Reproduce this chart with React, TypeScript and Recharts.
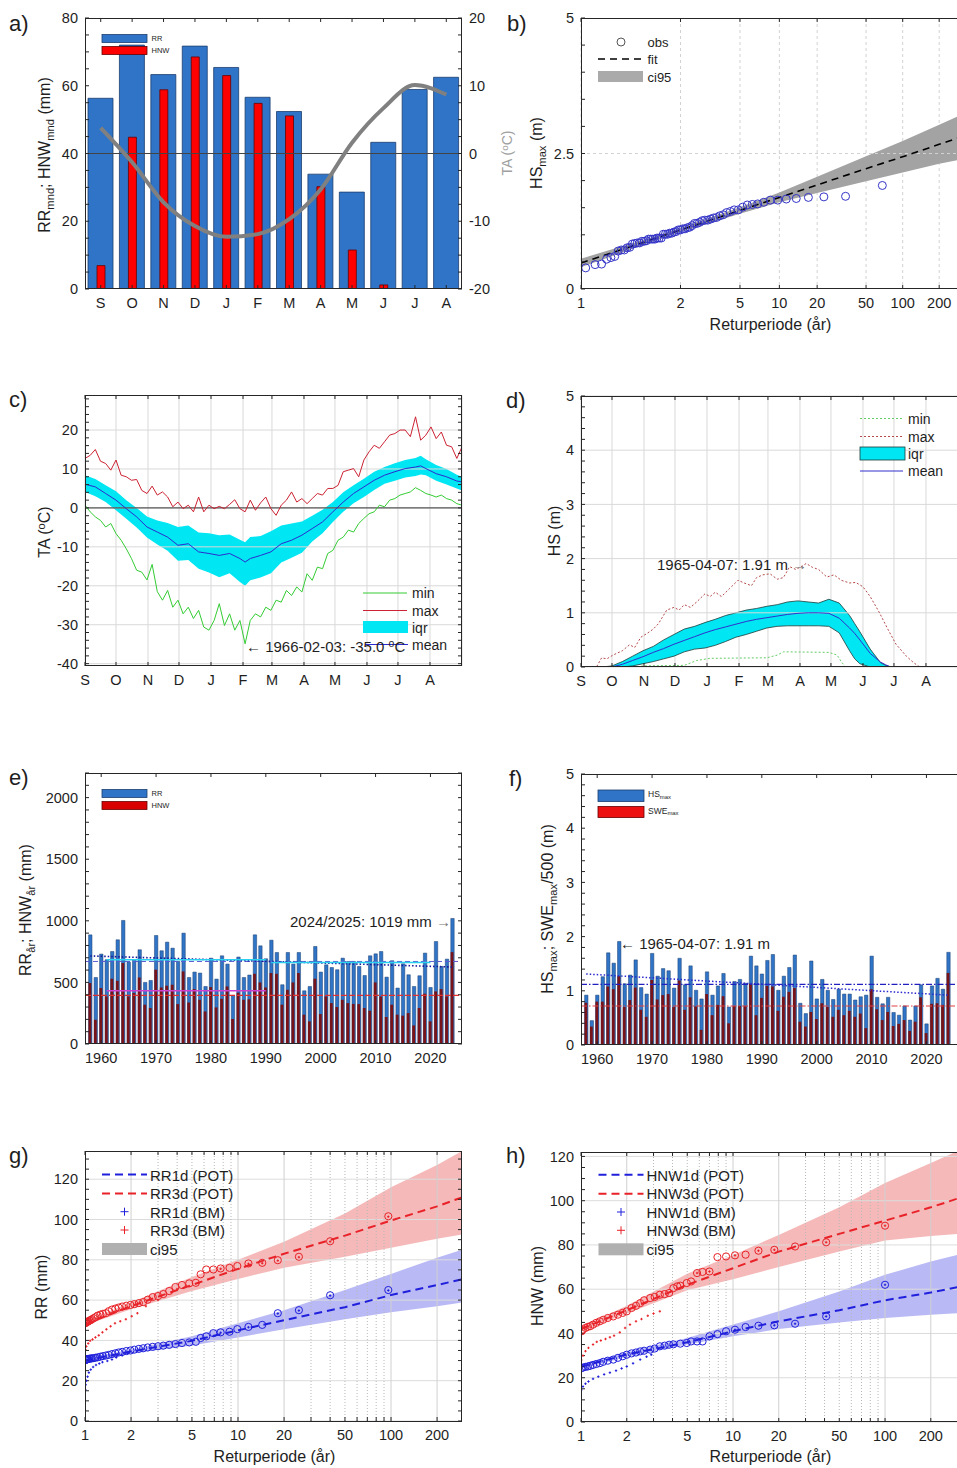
import React from 'react';
import { ComposedChart, Bar, Line, Area, Scatter, XAxis, YAxis, CartesianGrid, ReferenceLine } from 'recharts';

const FONT = '"Liberation Sans", Arial, Helvetica, sans-serif';
const INK = '#1e1e1e';
const BLUE_BAR = '#2f74c6';
const RED = '#ff0000';
const CYAN = '#00e6f2';
const GBLUE = '#2020dc';
const GRED = '#e82228';

// ---------- a) monthly means
const monthLabels = ['S', 'O', 'N', 'D', 'J', 'F', 'M', 'A', 'M', 'J', 'J', 'A'];
const rrMonthly = [56.3, 72.0, 63.3, 71.7, 65.4, 56.6, 52.4, 33.9, 28.6, 43.3, 58.9, 62.5];
const hnwMonthly = [6.9, 44.8, 58.8, 68.5, 63.0, 54.8, 51.1, 30.2, 11.5, 1.2, 0, 0];
const taMonthly = [3.8, -1.3, -7.2, -10.7, -12.3, -11.9, -9.7, -5.3, 1.6, 6.7, 10.1, 8.7];
const aLeftMajor = [0, 20, 40, 60, 80];
const aRightMajor = [-20, -10, 0, 10, 20];

// ---------- e/f) annual values, hydrological years from 1958
const firstYear = 1958;
const rrYear = [886, 540, 730, 684, 751, 846, 1003, 665, 684, 765,
  500, 516, 881, 757, 827, 778, 670, 900, 540, 584,
  576, 467, 697, 527, 716, 649, 394, 706, 540, 560,
  886, 797, 692, 843, 743, 481, 743, 649, 743, 432,
  467, 792, 584, 643, 621, 603, 697, 670, 670, 630,
  556, 716, 732, 751, 543, 676, 454, 651, 562, 467,
  554, 738, 459, 832, 630, 689, 1019];
const hnwYear = [495, 197, 454, 386, 530, 513, 657, 386, 414, 540,
  319, 292, 603, 459, 473, 481, 324, 589, 337, 446,
  359, 264, 462, 297, 367, 467, 203, 416, 359, 363,
  570, 500, 459, 576, 570, 319, 440, 500, 576, 238,
  184, 530, 243, 386, 332, 300, 359, 332, 325, 324,
  292, 270, 500, 386, 219, 319, 238, 230, 251, 151,
  292, 408, 184, 427, 446, 386, 746];
const hsMax = [0.92, 0.45, 0.92, 1.26, 1.70, 1.51, 1.91, 1.13, 1.29, 1.57,
  1.06, 0.94, 1.69, 1.27, 1.41, 1.37, 1.05, 1.60, 1.11, 1.46,
  1.01, 0.85, 1.35, 0.92, 1.09, 1.32, 0.70, 1.17, 1.21, 1.14,
  1.64, 1.46, 1.31, 1.56, 1.67, 1.01, 1.27, 1.43, 1.66, 0.77,
  0.58, 1.55, 0.85, 1.21, 1.01, 0.84, 1.03, 0.94, 0.94, 0.83,
  0.89, 0.92, 1.64, 0.88, 0.76, 0.88, 0.60, 0.55, 0.72, 0.46,
  0.72, 1.11, 0.39, 1.09, 1.23, 1.03, 1.71];
const sweMax500 = [0.78, 0.34, 0.80, 0.80, 1.08, 1.03, 1.27, 0.70, 0.83, 1.06,
  0.65, 0.52, 1.20, 0.84, 0.92, 0.94, 0.70, 1.19, 0.65, 0.88,
  0.71, 0.28, 0.94, 0.55, 0.74, 0.90, 0.40, 0.72, 0.72, 0.72,
  1.13, 0.55, 0.87, 1.09, 1.08, 0.63, 0.89, 0.98, 1.05, 0.43,
  0.34, 0.61, 0.48, 0.77, 0.70, 0.52, 0.65, 0.55, 0.63, 0.52,
  0.58, 0.31, 1.03, 0.66, 0.46, 0.61, 0.35, 0.39, 0.46, 0.26,
  0.43, 0.88, 0.22, 0.76, 0.77, 0.74, 1.33];
const decadeTicks = [1960, 1970, 1980, 1990, 2000, 2010, 2020];
const eMajor = [0, 500, 1000, 1500, 2000];
const fMajor = [0, 1, 2, 3, 4, 5];
const eTrendYears = [1958, 2024];
const eTrendRR = [715, 625];
const eMeanRR = 670;
const eMeanHNW = 395;
const eNormYears = [1961, 1990];
const eNormRR = 684;
const eNorm2Years = [1991, 2020];
const eNorm2RR = 662;
const eNormHNW = 432;
const fTrendHS = [1.31, 0.92];
const fMeanHS = 1.12;
const fMeanSWE = 0.72;

// ---------- b) return period HSmax (Gumbel axis)
const bTickT = [1.01, 2, 5, 10, 20, 50, 100, 200];
const bTickLabels = ['1', '2', '5', '10', '20', '50', '100', '200'];
const bMajor = [0, 2.5, 5];
const bFitT = [1.01, 1.5, 2, 3, 5, 10, 20, 50, 100, 200, 300];
const bFit = [0.48, 0.94, 1.09, 1.26, 1.45, 1.69, 1.92, 2.22, 2.44, 2.67, 2.80];
const bLo = [0.40, 0.90, 1.05, 1.21, 1.39, 1.60, 1.77, 1.99, 2.15, 2.31, 2.39];
const bHi = [0.56, 0.98, 1.13, 1.31, 1.51, 1.78, 2.07, 2.45, 2.73, 3.03, 3.21];

// ---------- c) daily temperature climatology
const monthStarts = [0, 30, 61, 91, 122, 153, 181, 212, 242, 273, 303, 334];
const cMajor = [-40, -30, -20, -10, 0, 10, 20];
const cDays = [0, 5, 10, 15, 20, 25, 30, 35, 40, 45, 50, 55, 60, 65, 70, 75, 80, 85, 90, 95,
  100, 105, 110, 115, 120, 125, 130, 135, 140, 145, 150, 155, 160, 165, 170, 175, 180, 185, 190, 195,
  200, 205, 210, 215, 220, 225, 230, 235, 240, 245, 250, 255, 260, 265, 270, 275, 280, 285, 290, 295,
  300, 305, 310, 315, 320, 325, 330, 335, 340, 345, 350, 355, 360, 365];
const taMax = [12.7, 13.5, 15.0, 12.0, 11.4, 9.7, 12.3, 8.4, 8.0, 7.1,
  7.3, 4.5, 3.7, 5.6, 3.3, 4.1, 2.8, 0.3, 1.5, -0.2,
  0.7, -1.0, 2.8, -1.0, 0.7, -0.2, 0.4, -0.2, 0.9, 2.1,
  -0.2, -1.0, 2.0, -0.6, 1.3, 2.8, -0.2, -1.9, 0.7, 2.0,
  4.1, 1.5, 2.4, 1.1, 2.4, 3.7, 3.3, 5.0, 5.0, 5.8,
  9.3, 9.7, 10.1, 8.0, 12.3, 14.4, 16.1, 15.3, 17.0, 18.7,
  19.1, 20.0, 20.0, 18.3, 23.4, 17.4, 18.7, 20.8, 17.8, 19.5,
  16.1, 15.7, 12.7, 15.7];
const taMin = [0.7, -1.0, -2.3, -3.2, -4.9, -4.0, -6.6, -8.3, -10.5, -13.0,
  -16.0, -16.5, -18.5, -14.5, -21.5, -23.7, -21.2, -25.5, -23.7, -27.2,
  -25.5, -28.4, -26.3, -30.6, -31.4, -28.9, -24.6, -30.2, -27.2, -31.4,
  -28.9, -34.9, -28.9, -27.2, -28.0, -25.5, -26.3, -23.7, -24.2, -21.2,
  -22.5, -20.3, -21.6, -16.9, -18.6, -15.2, -15.6, -11.7, -10.9, -8.3,
  -7.5, -5.7, -6.2, -4.0, -2.7, -1.5, -1.0, 0.7, 0.3, 2.0,
  2.4, 3.3, 3.7, 4.1, 5.2, 4.5, 3.7, 3.3, 2.8, 3.3,
  2.4, 2.0, 1.1, 0.7];
const cMeanDays = [0, 10, 20, 30, 40, 50, 60, 70, 80, 90, 100, 110, 120, 130, 140, 150, 155, 160, 170, 180,
  190, 200, 210, 220, 230, 240, 250, 260, 270, 280, 290, 300, 310, 320, 325, 330, 340, 350, 360, 365];
const taMean = [6.1, 5.4, 3.7, 2.0, -0.2, -2.3, -4.9, -6.2, -7.5, -9.6, -9.2, -11.3, -11.7, -12.2, -11.7, -13.0, -13.9, -13.0, -12.2, -11.3,
  -9.2, -8.3, -7.0, -5.3, -3.6, -1.0, 1.5, 3.7, 5.4, 7.1, 8.4, 9.3, 10.1, 10.5, 10.8, 10.1, 8.8, 8.0, 6.9, 6.7];
const taIqrHi = [8.4, 7.4, 5.8, 4.3, 2.0, 0.0, -2.2, -3.2, -3.9, -4.9, -4.5, -6.3, -6.5, -7.0, -6.8, -8.2, -8.8, -7.5, -7.2, -6.0,
  -4.5, -4.0, -3.5, -2.0, -0.5, 1.5, 4.0, 5.8, 7.5, 9.3, 10.5, 11.5, 12.3, 12.8, 13.4, 12.5, 11.0, 10.0, 8.5, 8.0];
const taIqrLo = [4.1, 3.0, 1.5, -0.6, -2.8, -5.0, -7.6, -9.4, -11.0, -13.6, -13.4, -15.6, -16.6, -17.8, -16.8, -19.0, -20.0, -18.6, -17.9, -16.8,
  -14.0, -12.8, -11.5, -8.6, -6.5, -3.6, -1.0, 1.2, 2.8, 4.6, 6.2, 7.0, 7.8, 8.2, 8.6, 8.4, 7.0, 6.0, 5.0, 4.5];

// ---------- d) daily snow depth climatology
const dMajor = [0, 1, 2, 3, 4, 5];
const dDays = [0, 10, 20, 30, 40, 50, 60, 70, 80, 90, 100, 110, 120, 130, 140, 150, 160, 170, 180, 190,
  200, 210, 220, 230, 240, 250, 260, 265, 270, 280, 290, 295, 300, 310, 320, 330, 340, 350, 365];
const hsMean = [0, 0, 0, 0, 0.05, 0.12, 0.19, 0.27, 0.34, 0.42, 0.49, 0.56, 0.63, 0.69, 0.74, 0.79, 0.84, 0.88, 0.91, 0.94,
  0.97, 0.99, 1.0, 1.0, 0.99, 0.9, 0.72, 0.62, 0.5, 0.25, 0.09, 0.04, 0, 0, 0, 0, 0, 0, 0];
const hsIqrHi = [0, 0, 0, 0.02, 0.1, 0.2, 0.3, 0.38, 0.5, 0.6, 0.7, 0.75, 0.82, 0.88, 0.95, 1.0, 1.05, 1.08, 1.12, 1.15,
  1.2, 1.22, 1.2, 1.18, 1.25, 1.18, 0.95, 0.8, 0.65, 0.33, 0.08, 0.03, 0, 0, 0, 0, 0, 0, 0];
const hsIqrLo = [0, 0, 0, 0, 0, 0.02, 0.06, 0.1, 0.15, 0.2, 0.28, 0.33, 0.35, 0.4, 0.47, 0.55, 0.6, 0.66, 0.72, 0.75,
  0.76, 0.76, 0.76, 0.76, 0.75, 0.63, 0.3, 0.15, 0.06, 0, 0, 0, 0, 0, 0, 0, 0, 0, 0];
const dMaxDays = [0, 15, 20, 25, 31, 40, 47, 52, 58, 64, 70, 75, 83, 90, 95, 100, 106, 112, 120, 125,
  130, 136, 144, 152, 158, 165, 170, 176, 183, 190, 196, 202, 208, 214, 218, 224, 230, 238, 245, 252,
  260, 266, 273, 280, 289, 297, 305, 315, 322, 328, 365];
const hsMaxDaily = [0, 0, 0.17, 0.15, 0.22, 0.3, 0.41, 0.36, 0.55, 0.62, 0.7, 0.8, 1.05, 1.1, 1.05, 1.15, 1.1, 1.2, 1.35, 1.3,
  1.38, 1.3, 1.45, 1.6, 1.55, 1.5, 1.65, 1.7, 1.72, 1.62, 1.65, 1.85, 1.8, 1.86, 1.91, 1.84, 1.8, 1.66, 1.7, 1.6,
  1.55, 1.56, 1.48, 1.3, 1.0, 0.7, 0.42, 0.2, 0.08, 0, 0];
const dMinDays = [0, 55, 60, 100, 112, 125, 180, 190, 196, 240, 248, 252, 256, 365];
const hsMinDaily = [0, 0, 0.02, 0.03, 0.12, 0.16, 0.17, 0.22, 0.28, 0.27, 0.22, 0.1, 0, 0];

// ---------- g) RR return levels
const logTicks = [1, 2, 5, 10, 20, 50, 100, 200];
const logMinorTicks = [3, 4, 6, 7, 8, 9, 30, 40, 60, 70, 80, 90];
const gridMajorT = [2, 10, 20, 100, 200];
const gridMinorT = [3, 4, 5, 6, 7, 8, 9, 30, 40, 50, 60, 70, 80, 90];
const retMajor = [0, 20, 40, 60, 80, 100, 120];
const gT = [1, 2, 5, 10, 20, 50, 100, 200, 291];
const rr1Fit = [30, 34.5, 39.8, 45, 50, 56.5, 62.5, 67.5, 70.3];
const rr1Lo = [29, 33.5, 37.5, 41.5, 45.5, 50.5, 54, 57, 58.8];
const rr1Hi = [31, 35.5, 42, 48.5, 55, 65, 73, 81, 85];
const rr3Fit = [48, 57, 67.5, 75.5, 83, 92, 99.5, 106.5, 111];
const rr3Lo = [47.5, 55.5, 64.5, 70.5, 76, 81.5, 86, 90.5, 92.5];
const rr3Hi = [49.5, 58.8, 71.5, 80, 89, 103, 116, 127, 134];
const rr3Pot = [[1.01, 48.6], [1.015, 48.8], [1.02, 49.0], [1.03, 49.1], [1.04, 49.3], [1.05, 49.5], [1.07, 49.8], [1.09, 50.1], [1.11, 50.5], [1.14, 51.0],
  [1.17, 51.5], [1.21, 52.3], [1.26, 52.8], [1.31, 53.2], [1.37, 53.5], [1.43, 54.5], [1.5, 55.3], [1.58, 55.8], [1.66, 56.3], [1.75, 56.8],
  [1.86, 57.2], [1.98, 57.6], [2.1, 58.0], [2.25, 58.5], [2.4, 59.0], [2.57, 60.2], [2.77, 61.5], [3.0, 62.0], [3.25, 63.0], [3.55, 64.5],
  [3.9, 66.5], [4.3, 67.5], [4.8, 68.3], [5.3, 68.6], [5.7, 72.8], [6.2, 75.2], [6.9, 75.2], [7.7, 75.7], [8.8, 76], [9.9, 76.9],
  [11.7, 78.2], [14.4, 78.5], [18.2, 79.8], [25, 81.5], [40, 89.2], [96, 101.6]];
const rr1Pot = [[1.01, 30.3], [1.015, 30.4], [1.02, 30.5], [1.03, 30.6], [1.04, 30.7], [1.05, 30.8], [1.07, 30.9], [1.09, 31.0], [1.11, 31.1], [1.14, 31.2],
  [1.17, 31.4], [1.21, 31.6], [1.26, 31.9], [1.31, 32.2], [1.37, 32.5], [1.43, 32.8], [1.5, 33.2], [1.58, 33.6], [1.66, 34.0], [1.75, 34.3],
  [1.86, 34.7], [1.98, 35.0], [2.1, 35.4], [2.25, 35.8], [2.4, 36.1], [2.57, 36.5], [2.77, 36.8], [3.0, 37.1], [3.25, 37.4], [3.55, 37.8],
  [3.9, 38.2], [4.3, 38.7], [4.8, 39.0], [5.3, 39.3], [5.7, 41.2], [6.2, 42], [6.9, 43.6], [7.7, 44], [8.8, 44.3], [9.9, 45.6],
  [11.7, 46.7], [14.4, 47.7], [18.2, 53.5], [25, 55], [40, 62.4], [96, 65]];
const rr3Bm = [[1.005, 35.5], [1.02, 37], [1.05, 38.5], [1.08, 39.8], [1.12, 40.5], [1.17, 41.5], [1.23, 42.5], [1.3, 44], [1.38, 45.5], [1.47, 47],
  [1.57, 48.5], [1.7, 49.5], [1.85, 50.5], [2.02, 52], [2.2, 53.5], [2.5, 57], [3.0, 60], [4.0, 65.5], [5.5, 68.5], [7.7, 75.5],
  [11.7, 78], [14.4, 78.3], [18.2, 79.6], [25, 81.3], [40, 89], [96, 101.4]];
const rr1Bm = [[1.005, 15.5], [1.01, 18], [1.02, 20], [1.04, 22], [1.06, 24], [1.09, 25.5], [1.13, 26.8], [1.18, 27.8], [1.24, 28.5], [1.3, 29.2],
  [1.4, 29.8], [1.5, 30.5], [1.6, 31.5], [1.75, 32.5], [1.9, 33.5], [7.7, 43.8], [11.7, 46.5], [18.2, 53.3], [25, 54.8], [40, 62.2], [96, 64.8]];

// ---------- h) HNW return levels
const hT = [1, 2, 5, 10, 20, 50, 100, 200, 302];
const hnw1Fit = [25, 30.5, 36, 41, 45.5, 50.5, 55, 58.5, 61];
const hnw1Lo = [24, 29.5, 35, 38.7, 42, 45, 47, 48.5, 49.2];
const hnw1Hi = [26, 31.5, 38, 44, 50, 59, 66.5, 72.5, 75.6];
const hnw3Fit = [42, 50.5, 62, 69.5, 77, 85, 91, 97, 101];
const hnw3Lo = [41, 49, 59.5, 64.5, 70, 77, 82, 84, 85];
const hnw3Hi = [43, 52.5, 67, 75.5, 84.5, 97, 108, 117, 122.5];
const hnw3Pot = [[1.01, 41], [1.03, 41.8], [1.07, 42.5], [1.11, 43.0], [1.15, 43.3], [1.2, 44], [1.26, 44.8], [1.33, 45.5], [1.4, 46.2], [1.5, 47],
  [1.63, 47.7], [1.75, 48.5], [1.88, 49.3], [2.0, 50], [2.15, 51.5], [2.3, 52.5], [2.45, 53.7], [2.6, 55], [2.85, 56], [3.05, 56.5],
  [3.3, 57.5], [3.55, 57.8], [3.8, 58.3], [4.05, 60.5], [4.3, 61.3], [4.5, 61.6], [4.96, 62.8], [5.3, 63.5], [5.8, 67.3], [6.3, 67.8],
  [7.0, 68], [7.9, 74.5], [9.0, 74.8], [10.3, 75.3], [12.1, 75.6], [14.7, 77.4], [18.7, 77.8], [25.6, 79.3], [41, 81.2], [100, 88.7]];
const hnw1Pot = [[1.01, 24.4], [1.03, 24.6], [1.07, 24.9], [1.11, 25.1], [1.15, 25.4], [1.2, 25.8], [1.26, 26.2], [1.33, 26.6], [1.4, 27.2], [1.5, 27.7],
  [1.63, 28.2], [1.75, 29], [1.88, 29.7], [2.0, 30.4], [2.15, 31], [2.3, 31.4], [2.45, 31.9], [2.6, 32.2], [2.85, 32.7], [3.05, 33.2],
  [3.3, 34.2], [3.55, 34.5], [3.8, 34.9], [4.05, 35.1], [4.5, 35.4], [4.96, 35.7], [5.3, 36.4], [5.8, 36.4], [6.3, 36.4], [7.0, 38.7],
  [7.9, 39.7], [9.0, 41], [10.3, 41.7], [12.1, 42.9], [14.7, 43.5], [18.7, 43.7], [25.6, 44.4], [41, 47.7], [100, 62]];
const hnw3Bm = [[1.005, 28], [1.03, 30], [1.07, 32], [1.12, 33.5], [1.2, 35], [1.27, 36.2], [1.35, 36.8], [1.45, 37.5], [1.55, 38.3], [1.65, 39],
  [1.8, 40.5], [1.95, 42.5], [2.1, 44], [2.3, 45.5], [2.5, 46.5], [2.75, 48], [3.0, 49], [3.3, 50], [5.8, 67.3], [7.0, 68],
  [10.3, 75.3], [14.7, 77.4], [18.7, 77.8], [25.6, 79.3], [41, 81.2], [100, 88.7]];
const hnw1Bm = [[1.005, 14.5], [1.03, 16], [1.07, 17.3], [1.12, 18.3], [1.2, 19.5], [1.3, 20.5], [1.42, 21.5], [1.55, 22.3], [1.7, 23.2], [1.85, 24.2],
  [2.0, 25.1], [2.2, 26.5], [2.45, 28.2], [2.7, 29.5], [2.9, 30.4], [10.3, 41.7], [18.7, 43.7], [25.6, 44.4], [41, 47.7], [100, 62]];

// ---------- helpers
const gumbel = (T: number) => -Math.log(-Math.log(1 - 1 / T));
const xy = (xs: number[], ys: number[]) => xs.map((x, i) => ({ x, y: ys[i] }));
const band = (xs: number[], lo: number[], hi: number[]) => xs.map((x, i) => ({ x, r: [lo[i], hi[i]] }));
const pairs = (p: number[][]) => p.map(([x, y]) => ({ x, y }));
const hline = (xs: number[], v: number) => xs.map((x) => ({ x, y: v }));
const steps = (a: number, b: number, s: number) => {
  const out: number[] = [];
  for (let v = a; v <= b + 1e-9; v += s) out.push(Math.round(v * 1000) / 1000);
  return out;
};
const showMajor = (majors: number[]) => (v: number) => (majors.some((m) => Math.abs(m - v) < 1e-9) ? String(v) : '');
const blank = () => '';

const tick = { fontSize: 14.5, fill: INK, fontFamily: FONT };
const inTick = { stroke: '#262626', strokeWidth: 1 };
const axX: any = { tickLine: inTick, axisLine: false, tickSize: -4, tickMargin: 13, tick, allowDataOverflow: true, interval: 0 };
const axY: any = { tickLine: inTick, axisLine: false, tickSize: -4, tickMargin: 11, tick, allowDataOverflow: true, interval: 0 };
const axH: any = { tickLine: inTick, axisLine: false, tickSize: -4, tickMargin: 0, tick, allowDataOverflow: true, interval: 0, tickFormatter: blank };
const NA = { isAnimationActive: false };

const circleShape = (color: string, r: number) => (p: any) => (
  <circle cx={p.cx} cy={p.cy} r={r} fill="none" stroke={color} strokeWidth={1} />
);
const crossShape = (color: string, s: number) => (p: any) => (
  <path d={`M${p.cx - s},${p.cy}H${p.cx + s}M${p.cx},${p.cy - s}V${p.cy + s}`} stroke={color} strokeWidth={1} fill="none" />
);

const At = ({ x, y, children }: any) => <div style={{ position: 'absolute', left: x, top: y }}>{children}</div>;
const Txt = ({ x, y, s = 14, c = INK, children }: any) => (
  <div style={{ position: 'absolute', left: x, top: y, fontSize: s, color: c, lineHeight: `${s}px`, whiteSpace: 'nowrap', transform: 'translateY(-50%)' }}>{children}</div>
);
const CTxt = ({ x, y, s = 16, c = INK, children }: any) => (
  <div style={{ position: 'absolute', left: x, top: y, fontSize: s, color: c, lineHeight: `${s}px`, whiteSpace: 'nowrap', transform: 'translate(-50%,-50%)' }}>{children}</div>
);
const VTxt = ({ x, y, s = 16, c = INK, children }: any) => (
  <div style={{ position: 'absolute', left: x, top: y, fontSize: s, color: c, lineHeight: `${s}px`, whiteSpace: 'nowrap', transform: 'translate(-50%,-50%) rotate(-90deg)' }}>{children}</div>
);
const Sub = ({ children }: any) => <span style={{ fontSize: '0.7em', position: 'relative', top: '0.32em' }}>{children}</span>;
const Sup = ({ children }: any) => <span style={{ fontSize: '0.7em', position: 'relative', top: '-0.45em' }}>{children}</span>;
const Frame = ({ l, t, r, b }: any) => (
  <div style={{ position: 'absolute', left: l, top: t, width: r - l, height: b - t, border: '1px solid #262626', boxSizing: 'border-box', pointerEvents: 'none' }} />
);

const M = { top: 14, right: 0, bottom: 0, left: 0 };
const ML = { top: 14, right: 9, bottom: 0, left: 0 };

// ---------- panels
function PanelA() {
  const rows = monthLabels.map((m, i) => ({ i, rr: rrMonthly[i], hnw: hnwMonthly[i], ta: taMonthly[i] }));
  return (
    <At x={0} y={3}>
      <ComposedChart width={520} height={326} data={rows} margin={M}>
        <XAxis xAxisId="m" dataKey="i" type="category" height={40} {...axX} tickFormatter={(v: number) => monthLabels[v]} />
        <XAxis xAxisId="t" dataKey="i" type="category" orientation="top" height={1} {...axH} />
        <XAxis xAxisId="m2" dataKey="i" type="category" hide />
        <YAxis yAxisId="l" width={85} domain={[0, 80]} ticks={steps(0, 80, 5)} tickFormatter={showMajor(aLeftMajor)} {...axY} />
        <YAxis yAxisId="r" orientation="right" width={58} domain={[-20, 20]} ticks={steps(-20, 20, 2.5)} tickFormatter={showMajor(aRightMajor)} {...axY} />
        <Bar xAxisId="m" yAxisId="l" dataKey="rr" barSize={25} fill={BLUE_BAR} stroke="#1c3f70" strokeWidth={0.8} {...NA} />
        <Bar xAxisId="m2" yAxisId="l" dataKey="hnw" barSize={8} fill={RED} stroke="#600" strokeWidth={0.8} {...NA} />
        <ReferenceLine xAxisId="m" yAxisId="l" y={40} stroke="#444" strokeWidth={1} />
        <Line xAxisId="m" yAxisId="r" dataKey="ta" type="monotone" stroke="#808080" strokeWidth={4} dot={false} {...NA} />
      </ComposedChart>
    </At>
  );
}

function PanelB() {
  const n = hsMax.length;
  const obs = [...hsMax].sort((p, q) => q - p).map((v, i) => ({ x: gumbel((n + 1) / (i + 1)), y: v }));
  const fit = bFitT.map((T, i) => ({ x: gumbel(T), y: bFit[i] }));
  const ci = bFitT.map((T, i) => ({ x: gumbel(T), r: [bLo[i], bHi[i]] }));
  const ticks = bTickT.map(gumbel);
  const dom = [gumbel(1.01), 5.654];
  return (
    <At x={480} y={3}>
      <ComposedChart width={478} height={326} margin={M}>
        <CartesianGrid stroke="#d2d2d2" strokeDasharray="3 3" horizontal={false} />
        <XAxis type="number" dataKey="x" domain={dom} ticks={ticks} height={40} {...axX}
          tickFormatter={(v: number, i: number) => bTickLabels[i]} />
        <XAxis xAxisId="t" type="number" dataKey="x" orientation="top" domain={dom} ticks={ticks} height={1} {...axH} />
        <YAxis type="number" width={101} domain={[0, 5]} ticks={steps(0, 5, 0.5)} tickFormatter={showMajor(bMajor)} {...axY} />
        <ReferenceLine y={2.5} stroke="#d2d2d2" strokeDasharray="3 3" />
        <Area data={ci} dataKey="r" fill="#a3a3a3" fillOpacity={1} stroke="none" {...NA} />
        <Scatter data={obs} dataKey="y" shape={circleShape('#3434c8', 4)} {...NA} />
        <Line data={fit} dataKey="y" stroke="#000" strokeWidth={1.6} strokeDasharray="7 5" dot={false} {...NA} />
      </ComposedChart>
    </At>
  );
}

function PanelC() {
  return (
    <At x={0} y={380}>
      <ComposedChart width={472} height={326} margin={ML}>
        <CartesianGrid stroke="#d9d9d9" horizontal={false} />
        <XAxis type="number" dataKey="x" domain={[0, 365]} ticks={monthStarts} height={40} {...axX}
          tickFormatter={(v: number, i: number) => monthLabels[i]} />
        <XAxis xAxisId="t" type="number" dataKey="x" orientation="top" domain={[0, 365]} ticks={monthStarts} height={1} {...axH} />
        <YAxis type="number" width={85} domain={[-40.6, 29]} ticks={steps(-40, 28, 2)} tickFormatter={showMajor(cMajor)} {...axY} />
        <YAxis yAxisId="rt" orientation="right" type="number" width={1} domain={[-40.6, 29]} ticks={steps(-40, 28, 2)} {...axH} />
        {cMajor.map((v) => <ReferenceLine key={v} y={v} stroke="#d9d9d9" />)}
        <Area data={band(cMeanDays, taIqrLo, taIqrHi)} dataKey="r" fill={CYAN} fillOpacity={1} stroke="none" {...NA} />
        <ReferenceLine y={0} stroke="#333" />
        <Line data={xy(cDays, taMin)} dataKey="y" stroke="#33cc33" strokeWidth={1} dot={false} {...NA} />
        <Line data={xy(cDays, taMax)} dataKey="y" stroke="#cc2233" strokeWidth={1} dot={false} {...NA} />
        <Line data={xy(cMeanDays, taMean)} dataKey="y" stroke="#2b2bd0" strokeWidth={1} dot={false} {...NA} />
      </ComposedChart>
    </At>
  );
}

function PanelD() {
  return (
    <At x={480} y={381}>
      <ComposedChart width={478} height={326} margin={M}>
        <CartesianGrid stroke="#d9d9d9" horizontal={false} />
        <XAxis type="number" dataKey="x" domain={[0, 365]} ticks={monthStarts} height={40} {...axX}
          tickFormatter={(v: number, i: number) => monthLabels[i]} />
        <XAxis xAxisId="t" type="number" dataKey="x" orientation="top" domain={[0, 365]} ticks={monthStarts} height={1} {...axH} />
        <YAxis type="number" width={101} domain={[0, 5]} ticks={steps(0, 5, 0.2)} tickFormatter={showMajor(dMajor)} {...axY} />
        {dMajor.map((v) => <ReferenceLine key={v} y={v} stroke="#d9d9d9" />)}
        <Area data={band(dDays, hsIqrLo, hsIqrHi)} dataKey="r" fill={CYAN} fillOpacity={1} stroke="#1d3a3a" strokeWidth={0.8} {...NA} />
        <Line data={xy(dMinDays, hsMinDaily)} dataKey="y" stroke="#66cc66" strokeDasharray="2 2" strokeWidth={1} dot={false} {...NA} />
        <Line data={xy(dMaxDays, hsMaxDaily)} dataKey="y" stroke="#b44a4a" strokeDasharray="2 2" strokeWidth={1} dot={false} {...NA} />
        <Line data={xy(dDays, hsMean)} dataKey="y" stroke="#3030cc" strokeWidth={1} dot={false} {...NA} />
      </ComposedChart>
    </At>
  );
}

function PanelE() {
  const rows = rrYear.map((v, i) => ({ x: firstYear + i, rr: v, hnw: hnwYear[i] }));
  const dom = [1957.05, 2025.75];
  const allYears = [dom[0], dom[1]];
  return (
    <At x={0} y={758}>
      <ComposedChart width={472} height={326} data={rows} margin={ML}>
        <XAxis xAxisId="e1" type="number" dataKey="x" domain={dom} ticks={decadeTicks} height={40} {...axX} />
        <XAxis xAxisId="t" type="number" dataKey="x" orientation="top" domain={dom} ticks={decadeTicks} height={1} {...axH} />
        <XAxis xAxisId="e2" type="number" dataKey="x" domain={dom} allowDataOverflow hide />
        <YAxis width={85} domain={[0, 2200]} ticks={steps(0, 2200, 100)} tickFormatter={showMajor(eMajor)} {...axY} />
        <YAxis yAxisId="rt" orientation="right" width={1} domain={[0, 2200]} ticks={steps(0, 2200, 100)} {...axH} />
        <Bar xAxisId="e1" dataKey="rr" barSize={3.4} fill={BLUE_BAR} stroke="#1c3f70" strokeWidth={0.5} {...NA} />
        <Bar xAxisId="e2" dataKey="hnw" barSize={2.8} fill="#781419" {...NA} />
        <Line xAxisId="e1" data={hline(allYears, eMeanRR)} dataKey="y" stroke="#5a5ad0" strokeDasharray="5 3" strokeWidth={1} dot={false} {...NA} />
        <Line xAxisId="e1" data={xy(eTrendYears, eTrendRR)} dataKey="y" stroke="#16169a" strokeDasharray="1.5 2" strokeWidth={1.6} dot={false} {...NA} />
        <Line xAxisId="e1" data={hline(eNormYears, eNormRR)} dataKey="y" stroke="#2ad0f0" strokeWidth={1.4} dot={false} {...NA} />
        <Line xAxisId="e1" data={hline(eNorm2Years, eNorm2RR)} dataKey="y" stroke="#2ad0f0" strokeWidth={1.4} dot={false} {...NA} />
        <Line xAxisId="e1" data={hline(allYears, eMeanHNW)} dataKey="y" stroke="#e03030" strokeDasharray="6 2" strokeWidth={1.2} dot={false} {...NA} />
        <Line xAxisId="e1" data={hline(eNormYears, eNormHNW)} dataKey="y" stroke="#d040d0" strokeWidth={1.4} dot={false} {...NA} />
      </ComposedChart>
    </At>
  );
}

function PanelF() {
  const rows = hsMax.map((v, i) => ({ x: firstYear + i, hs: v, swe: sweMax500[i] }));
  const dom = [1957.05, 2025.75];
  const allYears = [dom[0], dom[1]];
  return (
    <At x={480} y={759}>
      <ComposedChart width={478} height={326} data={rows} margin={M}>
        <XAxis xAxisId="f1" type="number" dataKey="x" domain={dom} ticks={decadeTicks} height={40} {...axX} />
        <XAxis xAxisId="t" type="number" dataKey="x" orientation="top" domain={dom} ticks={decadeTicks} height={1} {...axH} />
        <XAxis xAxisId="f2" type="number" dataKey="x" domain={dom} allowDataOverflow hide />
        <YAxis width={101} domain={[0, 5]} ticks={steps(0, 5, 0.2)} tickFormatter={showMajor(fMajor)} {...axY} />
        <Bar xAxisId="f1" dataKey="hs" barSize={3.4} fill={BLUE_BAR} stroke="#1c3f70" strokeWidth={0.5} {...NA} />
        <Bar xAxisId="f2" dataKey="swe" barSize={2.8} fill="#781419" {...NA} />
        <Line xAxisId="f1" data={hline(allYears, fMeanHS)} dataKey="y" stroke="#2020c0" strokeDasharray="6 2 1.5 2" strokeWidth={1.2} dot={false} {...NA} />
        <Line xAxisId="f1" data={xy(eTrendYears, fTrendHS)} dataKey="y" stroke="#2a2ad0" strokeDasharray="1.5 2" strokeWidth={1.5} dot={false} {...NA} />
        <Line xAxisId="f1" data={hline(allYears, fMeanSWE)} dataKey="y" stroke="#e04040" strokeDasharray="6 2 1.5 2" strokeWidth={1.2} dot={false} {...NA} />
      </ComposedChart>
    </At>
  );
}

function ReturnPanel({ x, y, w, yAxW, margin, rightAxis, dom, yDom, T, f1, lo1, hi1, f3, lo3, hi3, pot1, pot3, bm1, bm3 }: any) {
  const xt = [...logTicks, ...logMinorTicks].sort((p, q) => p - q);
  const yt = steps(0, yDom[1], 5);
  return (
    <At x={x} y={y}>
      <ComposedChart width={w} height={326} margin={margin}>
        <XAxis type="number" dataKey="x" scale="log" domain={dom} ticks={xt} tickFormatter={showMajor(logTicks)} height={41} {...axX} />
        <XAxis xAxisId="t" type="number" dataKey="x" scale="log" orientation="top" domain={dom} ticks={xt} height={1} {...axH} />
        <YAxis type="number" width={yAxW} domain={yDom} ticks={yt} tickFormatter={showMajor(retMajor)} {...axY} />
        {rightAxis && <YAxis yAxisId="rt" orientation="right" width={1} domain={yDom} ticks={yt} {...axH} />}
        {retMajor.map((v) => <ReferenceLine key={'h' + v} y={v} stroke="#dcdcdc" />)}
        {gridMajorT.map((v) => <ReferenceLine key={'M' + v} x={v} stroke="#d0d0d0" />)}
        {gridMinorT.map((v) => <ReferenceLine key={'m' + v} x={v} stroke="#b8b8b8" strokeDasharray="1 2" />)}
        <Area data={band(T, lo3, hi3)} dataKey="r" fill="#ef8a8a" fillOpacity={0.6} stroke="none" {...NA} />
        <Area data={band(T, lo1, hi1)} dataKey="r" fill="#8a8aee" fillOpacity={0.6} stroke="none" {...NA} />
        <Scatter data={pairs(pot3)} dataKey="y" shape={circleShape(GRED, 3.6)} {...NA} />
        <Scatter data={pairs(pot1)} dataKey="y" shape={circleShape(GBLUE, 3.6)} {...NA} />
        <Scatter data={pairs(bm3)} dataKey="y" shape={crossShape(GRED, 1.2)} {...NA} />
        <Scatter data={pairs(bm1)} dataKey="y" shape={crossShape(GBLUE, 1.2)} {...NA} />
        <Line data={xy(T, f3)} dataKey="y" stroke={GRED} strokeWidth={2} strokeDasharray="8 5" dot={false} {...NA} />
        <Line data={xy(T, f1)} dataKey="y" stroke={GBLUE} strokeWidth={2} strokeDasharray="8 5" dot={false} {...NA} />
      </ComposedChart>
    </At>
  );
}

function Overlay() {
  const cross = (cx: number, cy: number, c: string) => (
    <path d={`M${cx - 4},${cy}H${cx + 4}M${cx},${cy - 4}V${cy + 4}`} stroke={c} strokeWidth={1} />
  );
  return (
    <svg width={957} height={1468} style={{ position: 'absolute', left: 0, top: 0, pointerEvents: 'none' }}>
      <rect x={102} y={34.5} width={45} height={8} fill={BLUE_BAR} stroke="#1c3f70" strokeWidth={0.8} />
      <rect x={102} y={46.5} width={45} height={8} fill={RED} stroke="#600" strokeWidth={0.8} />
      <circle cx={621} cy={42} r={4} fill="none" stroke="#555" />
      <line x1={598} y1={59} x2={643} y2={59} stroke="#000" strokeWidth={1.6} strokeDasharray="7 5" />
      <rect x={598} y={71} width={45} height={11} fill="#aaa" />
      <line x1={363} y1={593} x2={407} y2={593} stroke="#33cc33" />
      <line x1={363} y1={610.5} x2={407} y2={610.5} stroke="#cc2233" />
      <rect x={363} y={621} width={45} height={12} fill={CYAN} />
      <line x1={365} y1={644.5} x2={408} y2={644.5} stroke="#2b2bd0" />
      <line x1={860} y1={418.5} x2={903} y2={418.5} stroke="#66cc66" strokeDasharray="2 2" />
      <line x1={860} y1={436.5} x2={903} y2={436.5} stroke="#b44a4a" strokeDasharray="2 2" />
      <rect x={860} y={447} width={45} height={13} fill={CYAN} stroke="#1d3a3a" strokeWidth={0.8} />
      <line x1={860} y1={471} x2={903} y2={471} stroke="#3030cc" />
      <rect x={102} y={789.5} width={45} height={8} fill={BLUE_BAR} stroke="#1c3f70" strokeWidth={0.8} />
      <rect x={102} y={801.5} width={45} height={8} fill="#d80000" stroke="#600" strokeWidth={0.8} />
      <rect x={598} y={790} width={46} height={11.5} fill={BLUE_BAR} stroke="#1c3f70" strokeWidth={0.8} />
      <rect x={598} y={806.5} width={46} height={11} fill="#ee1111" stroke="#600" strokeWidth={0.8} />
      <line x1={102} y1={1174.5} x2={147} y2={1174.5} stroke={GBLUE} strokeWidth={2} strokeDasharray="8 5" />
      <line x1={102} y1={1193.5} x2={147} y2={1193.5} stroke={GRED} strokeWidth={2} strokeDasharray="8 5" />
      {cross(124.5, 1211.7, GBLUE)}
      {cross(124.5, 1230, GRED)}
      <rect x={102} y={1243} width={45} height={12} fill="#b0b0b0" />
      <line x1={598.5} y1={1174.8} x2={643.5} y2={1174.8} stroke={GBLUE} strokeWidth={2} strokeDasharray="8 5" />
      <line x1={598.5} y1={1193.8} x2={643.5} y2={1193.8} stroke={GRED} strokeWidth={2} strokeDasharray="8 5" />
      {cross(621, 1212, GBLUE)}
      {cross(621, 1230.3, GRED)}
      <rect x={598.5} y={1243.3} width={45} height={12} fill="#b0b0b0" />
    </svg>
  );
}

function Texts() {
  return (
    <>
      <Txt x={9} y={24} s={22}>a)</Txt>
      <Txt x={507} y={24} s={22}>b)</Txt>
      <Txt x={9} y={400} s={22}>c)</Txt>
      <Txt x={506} y={401} s={22}>d)</Txt>
      <Txt x={9} y={778} s={22}>e)</Txt>
      <Txt x={509} y={779} s={22}>f)</Txt>
      <Txt x={9} y={1156} s={22}>g)</Txt>
      <Txt x={506} y={1156} s={22}>h)</Txt>
      <VTxt x={45} y={155}>RR<Sub>mnd</Sub>; HNW<Sub>mnd</Sub> (mm)</VTxt>
      <VTxt x={508} y={153} s={14} c="#a0a0a0">TA (<Sup>o</Sup>C)</VTxt>
      <VTxt x={537} y={153}>HS<Sub>max</Sub> (m)</VTxt>
      <CTxt x={770.5} y={325}>Returperiode (år)</CTxt>
      <VTxt x={45} y={532}>TA (<Sup>o</Sup>C)</VTxt>
      <VTxt x={555} y={531}>HS (m)</VTxt>
      <VTxt x={26} y={910}>RR<Sub>år</Sub>; HNW<Sub>år</Sub> (mm)</VTxt>
      <VTxt x={548} y={909}>HS<Sub>max</Sub>; SWE<Sub>max</Sub>/500 (m)</VTxt>
      <VTxt x={42} y={1287}>RR (mm)</VTxt>
      <CTxt x={274.5} y={1457}>Returperiode (år)</CTxt>
      <VTxt x={538} y={1286}>HNW (mm)</VTxt>
      <CTxt x={770.5} y={1457}>Returperiode (år)</CTxt>
      <Txt x={151.5} y={38.5} s={7.5}>RR</Txt>
      <Txt x={151.5} y={50.5} s={7.5}>HNW</Txt>
      <Txt x={647.5} y={42} s={13}>obs</Txt>
      <Txt x={647.5} y={59} s={13}>fit</Txt>
      <Txt x={647.5} y={76.5} s={13}>ci95</Txt>
      <Txt x={412} y={593} s={14}>min</Txt>
      <Txt x={412} y={610.5} s={14}>max</Txt>
      <Txt x={412} y={628} s={14}>iqr</Txt>
      <Txt x={412} y={645} s={14}>mean</Txt>
      <Txt x={908} y={418.5} s={14}>min</Txt>
      <Txt x={908} y={436.5} s={14}>max</Txt>
      <Txt x={908} y={454} s={14}>iqr</Txt>
      <Txt x={908} y={471} s={14}>mean</Txt>
      <Txt x={151.5} y={793.5} s={7.5}>RR</Txt>
      <Txt x={151.5} y={805.5} s={7.5}>HNW</Txt>
      <Txt x={648} y={795} s={8.5}>HS<Sub>max</Sub></Txt>
      <Txt x={648} y={811.5} s={8.5}>SWE<Sub>max</Sub></Txt>
      <Txt x={150} y={1174.5} s={15}>RR1d (POT)</Txt>
      <Txt x={150} y={1193} s={15}>RR3d (POT)</Txt>
      <Txt x={150} y={1211.5} s={15}>RR1d (BM)</Txt>
      <Txt x={150} y={1230} s={15}>RR3d (BM)</Txt>
      <Txt x={150} y={1249} s={15}>ci95</Txt>
      <Txt x={646.5} y={1174.8} s={15}>HNW1d (POT)</Txt>
      <Txt x={646.5} y={1193.3} s={15}>HNW3d (POT)</Txt>
      <Txt x={646.5} y={1211.8} s={15}>HNW1d (BM)</Txt>
      <Txt x={646.5} y={1230.3} s={15}>HNW3d (BM)</Txt>
      <Txt x={646.5} y={1249.3} s={15}>ci95</Txt>
      <Txt x={246} y={647} s={15}>← 1966-02-03: -35.0 <Sup>o</Sup>C</Txt>
      <Txt x={657} y={563.5} s={15}>1965-04-07: 1.91 m <span style={{ color: '#777' }}>→</span></Txt>
      <Txt x={290} y={920.5} s={15}>2024/2025: 1019 mm <span style={{ color: '#777' }}>→</span></Txt>
      <Txt x={620} y={942.5} s={15}>← 1965-04-07: 1.91 m</Txt>
    </>
  );
}

export default function App() {
  return (
    <div style={{ position: 'absolute', left: 0, top: 0, width: 957, height: 1468, overflow: 'hidden', background: '#fff', fontFamily: FONT, color: INK }}>
      <PanelA />
      <PanelB />
      <PanelC />
      <PanelD />
      <PanelE />
      <PanelF />
      <ReturnPanel x={0} y={1136} w={472} yAxW={85} margin={ML} rightAxis dom={[1, 291]} yDom={[0, 134]}
        T={gT} f1={rr1Fit} lo1={rr1Lo} hi1={rr1Hi} f3={rr3Fit} lo3={rr3Lo} hi3={rr3Hi}
        pot1={rr1Pot} pot3={rr3Pot} bm1={rr1Bm} bm3={rr3Bm} />
      <ReturnPanel x={480} y={1137} w={478} yAxW={101} margin={M} rightAxis={false} dom={[1, 302]} yDom={[0, 122]}
        T={hT} f1={hnw1Fit} lo1={hnw1Lo} hi1={hnw1Hi} f3={hnw3Fit} lo3={hnw3Lo} hi3={hnw3Hi}
        pot1={hnw1Pot} pot3={hnw3Pot} bm1={hnw1Bm} bm3={hnw3Bm} />
      <Frame l={85} t={18} r={462} b={289} />
      <Frame l={581} t={18} r={960} b={289} />
      <Frame l={85} t={395} r={462} b={666} />
      <Frame l={581} t={396} r={960} b={667} />
      <Frame l={85} t={773} r={462} b={1044} />
      <Frame l={581} t={774} r={960} b={1045} />
      <Frame l={85} t={1151} r={462} b={1422} />
      <Frame l={581} t={1152} r={960} b={1422} />
      <Overlay />
      <Texts />
    </div>
  );
}
